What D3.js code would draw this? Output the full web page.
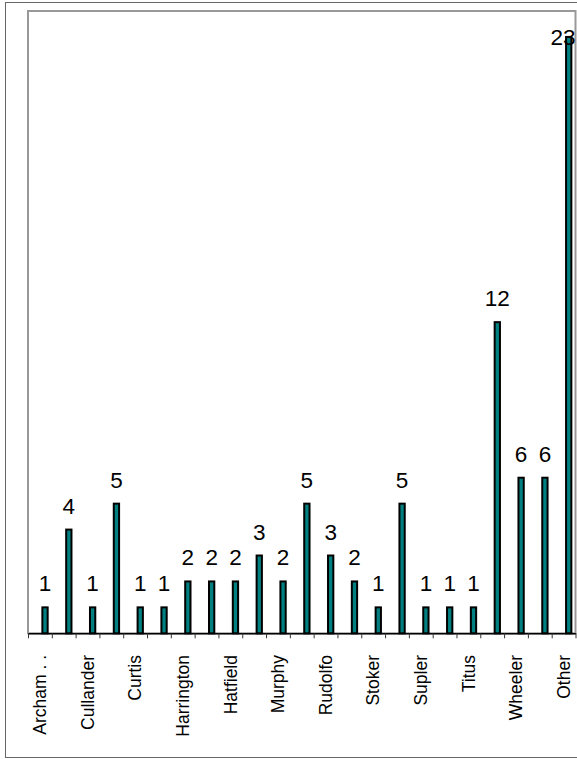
<!DOCTYPE html>
<html>
<head>
<meta charset="utf-8">
<script src="https://cdn.jsdelivr.net/npm/d3@7"></script>
<style>
  body { margin: 0; background: #fff; }
  svg { display: block; font-family: "Liberation Sans", Arial, sans-serif; }
</style>
</head>
<body>
<div id="chart"></div>
<script>
    const WIDTH  = 577;
    const HEIGHT = 759;

    // one count per name, only every other name is printed on the axis
    const counts     = [1, 4, 1, 5, 1, 1, 2, 2, 2, 3, 2, 5, 3, 2, 1, 5, 1, 1, 1, 12, 6, 6, 23];
    const tickLabels = ["Archam . .", "Cullander", "Curtis", "Harrington", "Hatfield", "Murphy",
                        "Rudolfo", "Stoker", "Supler", "Titus", "Wheeler", "Other"];
    const yMax       = 24;

    const BAR_FILL   = "#008080";
    const BAR_WIDTH  = 5.3;
    const BAR_OFFSET = 0.715;   // bar sits right of the category centre

    const plot = { left: 28, right: 575.5, top: 11, bottom: 633.3 };

    const svg = d3.select("#chart").append("svg")
        .attr("width", WIDTH)
        .attr("height", HEIGHT);

    // outer frame
    svg.append("rect")
        .attr("x", 5.5).attr("y", 2.5)
        .attr("width", WIDTH).attr("height", 755)
        .attr("fill", "none")
        .attr("stroke", "#666")
        .attr("stroke-width", 1);

    const xScale = d3.scaleLinear().domain([0, counts.length]).range([plot.left, plot.right]);
    const yScale = d3.scaleLinear().domain([0, yMax]).range([plot.bottom, plot.top]);

    // plot area border
    svg.append("rect")
        .attr("x", plot.left).attr("y", plot.top)
        .attr("width", plot.right - plot.left)
        .attr("height", plot.bottom - plot.top)
        .attr("fill", "none")
        .attr("stroke", "#999")
        .attr("stroke-width", 2);

    // x-axis with ticks between the categories
    const xAxis = d3.axisBottom(xScale)
        .tickValues(d3.range(counts.length + 1))
        .tickFormat("")
        .tickSize(5)
        .tickSizeOuter(0);

    const axisG = svg.append("g")
        .attr("transform", `translate(0, ${plot.bottom})`)
        .call(xAxis);
    axisG.select(".domain").attr("stroke", "#000").attr("stroke-width", 1.5);
    axisG.selectAll(".tick line").attr("stroke", "#333");

    // bars
    svg.selectAll(".bar")
        .data(counts)
        .enter()
        .append("rect")
        .attr("class", "bar")
        .attr("x", (d, i) => xScale(i + BAR_OFFSET) - BAR_WIDTH / 2)
        .attr("y", d => yScale(d))
        .attr("width", BAR_WIDTH)
        .attr("height", d => plot.bottom - yScale(d))
        .attr("fill", BAR_FILL)
        .attr("stroke", "#000")
        .attr("stroke-width", 2);

    // value labels, kept inside the plot area like the original
    svg.selectAll(".val")
        .data(counts)
        .enter()
        .append("text")
        .attr("class", "val")
        .attr("text-anchor", "middle")
        .style("font-size", "22.5px")
        .attr("fill", "#000")
        .text(d => d)
        .each(function (d, i) {
            const w = this.getComputedTextLength();
            let x = xScale(i + BAR_OFFSET);
            if (x + w / 2 > plot.right) x = plot.right - w / 2;
            let y = yScale(d) - 16;
            if (y < plot.top + 34) y = plot.top + 34;
            d3.select(this).attr("x", x).attr("y", y);
        });

    // category labels, every second one
    svg.selectAll(".cat")
        .data(tickLabels)
        .enter()
        .append("text")
        .attr("class", "cat")
        .attr("transform", (d, k) => `translate(${xScale(k * 2 + 0.5)}, 655) rotate(-90)`)
        .attr("dy", "0.36em")
        .attr("text-anchor", "end")
        .style("font-size", "17.5px")
        .attr("fill", "#000")
        .text(d => d);
</script>
</body>
</html>
